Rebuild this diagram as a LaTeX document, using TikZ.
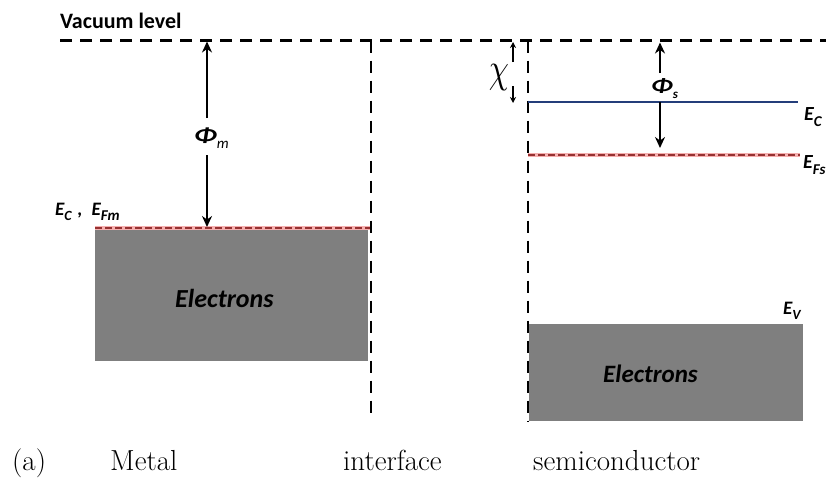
\documentclass[tikz,border=0pt]{standalone}
\usepackage{fontspec}
\usepackage{graphicx}
\newfontfamily\carl{Carlito}
\usetikzlibrary{arrows.meta}
\definecolor{boxgray}{RGB}{127,127,127}
\definecolor{ecblue}{RGB}{36,62,122}
\definecolor{efred}{RGB}{150,50,50}
\definecolor{efpink}{RGB}{245,175,175}
\newcommand\lsub[2]{\raisebox{-0.3em}{\fontsize{#1}{#1}\selectfont #2}}
\newcommand\widephi{\scalebox{1.35}[1]{Φ}}
\begin{document}
\begin{tikzpicture}[x=1pt,y=-1pt,
  vac/.style={line width=2.8pt, dash pattern=on 12pt off 8pt},
  fermi/.style={line width=2pt, efred, dash pattern=on 7pt off 3pt},
  fermiglow/.style={line width=4pt, efpink},
  band/.style={fill=boxgray, draw=none, inner sep=0, anchor=north west},
  lbl/.style={inner sep=0, anchor=base west, font=\carl\bfseries\itshape},
  captxt/.style={inner sep=0, anchor=base west, font=\fontsize{29}{30}\selectfont},
  bigarr/.style={line width=2.2pt, -{Stealth[length=11pt,width=10pt]}},
  smallarr/.style={line width=1.3pt, -{Stealth[length=6pt,width=6pt]}}]
\useasboundingbox (0,0) rectangle (826,477);
\clip (0,0) rectangle (826,477);

% coordinates
\coordinate (vacL) at (60,40.5);
\coordinate (vacR) at (830,40.5);
\coordinate (ifT) at (371,40.5);
\coordinate (ifB) at (371,418);
\coordinate (scT) at (528,40.5);
\coordinate (scB) at (528,421);
\coordinate (mfL) at (95,228);
\coordinate (mfR) at (370,228);
\coordinate (sfL) at (528,155);
\coordinate (sfR) at (800,155);
\coordinate (ecL) at (528,102);
\coordinate (ecR) at (798,102);

% bands
\node[band, minimum width=273pt, minimum height=132pt] (mbox) at (95,229) {};
\node[band, minimum width=274pt, minimum height=97pt] (sbox) at (529,324) {};

% vacuum and interface lines
\draw[vac] (vacL) -- (vacR);
\draw[vac] (ifT) -- (ifB);
\draw[vac] (scT) -- (scB);

% Fermi levels
\draw[fermiglow] (mfL) -- (mfR);
\draw[fermi] (mfL) -- (mfR);
\draw[fermiglow] (sfL) -- (sfR);
\draw[fermi] (sfL) -- (sfR);

% conduction band edge
\draw[ecblue, line width=2.6pt] (ecL) -- (ecR);

% arrows
\coordinate (pmTop) at (207,41.5);
\coordinate (pmA) at (207,118);
\coordinate (pmB) at (207,155);
\coordinate (pmBot) at (207,227);
\draw[bigarr] (pmA) -- (pmTop);
\draw[bigarr] (pmB) -- (pmBot);

\coordinate (psTop) at (660,42.5);
\coordinate (psA) at (660,73);
\coordinate (psB) at (660,102);
\coordinate (psBot) at (660,148);
\draw[bigarr] (psA) -- (psTop);
\draw[bigarr] (psB) -- (psBot);

\coordinate (chTop) at (513,42);
\coordinate (chA) at (513,62);
\coordinate (chB) at (513,86);
\coordinate (chBot) at (513,103);
\draw[smallarr] (chA) -- (chTop);
\draw[smallarr] (chB) -- (chBot);

% labels
\node[lbl, font=\carl\bfseries\fontsize{22}{24}\selectfont] (vaclbl) at (60,28) {Vacuum level};
\node[lbl, font=\carl\bfseries\itshape\fontsize{19}{20}\selectfont] (mlbl) at (55,215) {E\lsub{14}{C}\hspace{6pt},\hspace{9pt}E\lsub{15}{Fm}};
\node[lbl, font=\carl\bfseries\itshape\fontsize{21}{22}\selectfont] (phim) at (194,142) {\widephi\lsub{15}{\mdseries m}};
\node[lbl, font=\carl\bfseries\itshape\fontsize{20}{22}\selectfont] (phis) at (651,92) {\widephi\lsub{13}{s}};
\node[inner sep=0] (chi) at (499,78) {\scalebox{3.2}[4.2]{$\chi$}};
\node[lbl, font=\carl\bfseries\itshape\fontsize{20}{22}\selectfont] (eclbl) at (804,120) {E\lsub{15}{C}};
\node[lbl, font=\carl\bfseries\itshape\fontsize{20}{22}\selectfont] (eflbl) at (803,168) {E\lsub{15}{Fs}};
\node[lbl, font=\carl\bfseries\itshape\fontsize{19}{20}\selectfont] (evlbl) at (783,314) {E\lsub{14}{V}};
\node[lbl, font=\carl\bfseries\itshape\fontsize{26}{28}\selectfont] (mel) at (175,307) {Electrons};
\node[lbl, font=\carl\bfseries\itshape\fontsize{25}{27}\selectfont] (sel) at (603,382) {Electrons};

% captions
\node[captxt] (ca) at (12,470) {(a)};
\node[captxt] (cm) at (110,470) {Metal};
\node[captxt] (ci) at (343,470) {interface};
\node[captxt] (cs) at (533,470) {semiconductor};
\end{tikzpicture}
\end{document}
